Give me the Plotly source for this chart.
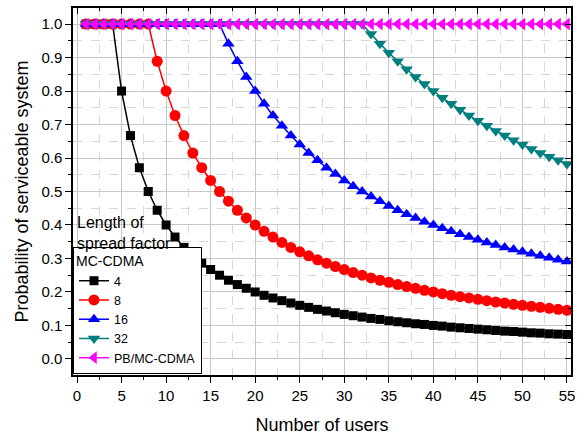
import plotly.graph_objects as go

users = list(range(1, 56))

sf4 = [1, 1, 1, 1, 0.8, 0.667, 0.571, 0.5, 0.444, 0.4, 0.364, 0.333, 0.308, 0.286, 0.267,
       0.25, 0.235, 0.222, 0.211, 0.2, 0.19, 0.182, 0.174, 0.167, 0.16, 0.154, 0.148, 0.143,
       0.138, 0.133, 0.129, 0.125, 0.121, 0.118, 0.114, 0.111, 0.108, 0.105, 0.103, 0.1,
       0.098, 0.095, 0.093, 0.091, 0.089, 0.087, 0.085, 0.083, 0.082, 0.08, 0.078, 0.077,
       0.075, 0.074, 0.073]
sf8 = [1, 1, 1, 1, 1, 1, 1, 1, 0.889, 0.8, 0.727, 0.667, 0.615, 0.571, 0.533, 0.5, 0.471,
       0.444, 0.421, 0.4, 0.381, 0.364, 0.348, 0.333, 0.32, 0.308, 0.296, 0.286, 0.276,
       0.267, 0.258, 0.25, 0.242, 0.235, 0.229, 0.222, 0.216, 0.211, 0.205, 0.2, 0.195,
       0.19, 0.186, 0.182, 0.178, 0.174, 0.17, 0.167, 0.163, 0.16, 0.157, 0.154, 0.151,
       0.148, 0.145]
sf16 = [1, 1, 1, 1, 1, 1, 1, 1, 1, 1, 1, 1, 1, 1, 1, 1, 0.941, 0.889, 0.842, 0.8, 0.762,
        0.727, 0.696, 0.667, 0.64, 0.615, 0.593, 0.571, 0.552, 0.533, 0.516, 0.5, 0.485,
        0.471, 0.457, 0.444, 0.432, 0.421, 0.41, 0.4, 0.39, 0.381, 0.372, 0.364, 0.356,
        0.348, 0.34, 0.333, 0.327, 0.32, 0.314, 0.308, 0.302, 0.296, 0.291]
sf32 = [1, 1, 1, 1, 1, 1, 1, 1, 1, 1, 1, 1, 1, 1, 1, 1, 1, 1, 1, 1, 1, 1, 1, 1, 1, 1, 1,
        1, 1, 1, 1, 1, 0.97, 0.941, 0.914, 0.889, 0.865, 0.842, 0.821, 0.8, 0.78, 0.762,
        0.744, 0.727, 0.711, 0.696, 0.681, 0.667, 0.653, 0.64, 0.627, 0.615, 0.604, 0.593,
        0.582]
pb = [1.0] * 55

series = [
    ("4", sf4, "#000000", "square", 9),
    ("8", sf8, "#ff0000", "circle", 11),
    ("16", sf16, "#0000ff", "triangle-up", 11),
    ("32", sf32, "#007f7f", "triangle-down", 11),
    ("PB/MC-CDMA", pb, "#ff00ff", "triangle-left", 11),
]

fig = go.Figure()
for name, vals, color, sym, size in series:
    fig.add_trace(go.Scatter(
        x=users, y=vals, name=name, mode="lines+markers",
        line=dict(color=color, width=1.5),
        marker=dict(symbol=sym, size=size, color=color, line=dict(width=0)),
    ))

# invisible trace for mirrored axes
fig.add_trace(go.Scatter(x=[0], y=[0], xaxis="x2", yaxis="y2", mode="markers",
                         marker=dict(opacity=0), showlegend=False, hoverinfo="skip"))

font_family = "Liberation Sans, Arial, sans-serif"
xr = [-0.45, 55.45]
yr = [-0.048, 1.048]

fig.update_layout(
    width=588, height=436,
    margin=dict(l=73, r=17, t=8, b=61, autoexpand=False),
    paper_bgcolor="white", plot_bgcolor="white",
    font=dict(family=font_family, size=15, color="black"),
    xaxis=dict(
        range=xr, dtick=5, tick0=0, showline=True, linecolor="black", linewidth=1.5,
        mirror=True, ticks="outside", ticklen=6, tickwidth=1.2, tickcolor="black",
        showgrid=True, gridcolor="#c8c8c8", gridwidth=1, zeroline=False, automargin=False,
        minor=dict(dtick=2.5, ticks="outside", ticklen=3, tickcolor="black",
                   showgrid=True, gridcolor="#d8d8d8", griddash="dash"),
        title=dict(text="Number of users", font=dict(size=18), standoff=16),
        tickfont=dict(size=15),
    ),
    yaxis=dict(
        range=yr, dtick=0.1, tick0=0, tickformat=".1f", showline=True, linecolor="black",
        linewidth=1.5, mirror=True, ticks="outside", ticklen=6, tickwidth=1.2,
        tickcolor="black", showgrid=True, gridcolor="#c8c8c8", gridwidth=1, zeroline=False,
        automargin=False,
        minor=dict(dtick=0.05, ticks="outside", ticklen=3, tickcolor="black",
                   showgrid=True, gridcolor="#d8d8d8", griddash="dash"),
        title=dict(text="Probability of serviceable system", font=dict(size=18), standoff=8),
        tickfont=dict(size=15),
    ),
    xaxis2=dict(
        overlaying="x", side="top", range=xr, dtick=5, tick0=0, showticklabels=False,
        ticks="inside", ticklen=6, tickwidth=1.2, tickcolor="black", showgrid=False,
        zeroline=False, showline=False, automargin=False,
        minor=dict(dtick=2.5, ticks="inside", ticklen=3, tickcolor="black", showgrid=False),
    ),
    yaxis2=dict(
        overlaying="y", side="right", range=yr, dtick=0.1, tick0=0, showticklabels=False,
        ticks="inside", ticklen=6, tickwidth=1.2, tickcolor="black", showgrid=False,
        zeroline=False, showline=False, automargin=False,
        minor=dict(dtick=0.05, ticks="inside", ticklen=3, tickcolor="black", showgrid=False),
    ),
    legend=dict(
        x=0, y=0.003, xanchor="left", yanchor="bottom",
        bgcolor="white", bordercolor="black", borderwidth=1,
        title=dict(text="MC-CDMA", font=dict(size=14)),
        font=dict(size=12.5), tracegroupgap=0, itemwidth=30,
    ),
    annotations=[dict(
        text="Length of<br>spread factor", x=0, y=0.33, xref="paper", yref="paper",
        xanchor="left", yanchor="bottom", align="left", showarrow=False,
        xshift=2, font=dict(size=16),
    )],
)

fig.write_html("out.html", config={"displayModeBar": False},
               post_script="document.body.style.margin='0';")
